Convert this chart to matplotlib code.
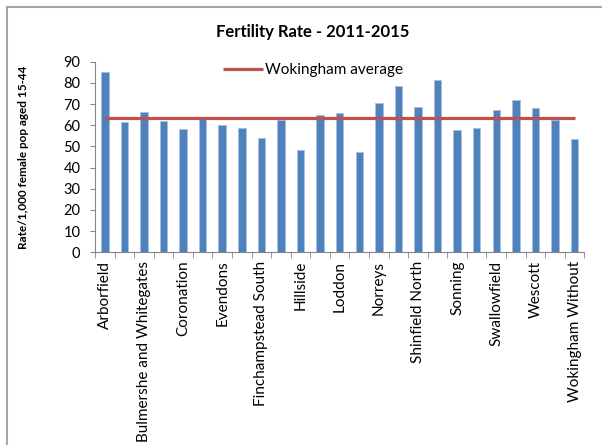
import matplotlib.pyplot as plt
from matplotlib.lines import Line2D

plt.rcParams['font.family'] = ['Lato', 'DejaVu Sans']

wards = ['Arborfield', 'Barkham', 'Bulmershe and Whitegates', 'Charvil',
         'Coronation', 'Emmbrook', 'Evendons', 'Finchampstead North',
         'Finchampstead South', 'Hawkedon', 'Hillside', 'Hurst', 'Loddon',
         'Maiden Erlegh', 'Norreys', 'Remenham, Wargrave and Ruscombe',
         'Shinfield North', 'Shinfield South', 'Sonning', 'South Lake',
         'Swallowfield', 'Twyford', 'Wescott', 'Winnersh', 'Wokingham Without']
rate = [85.0, 61.5, 66.4, 62.2, 58.1, 62.8, 60.1, 58.5, 53.8, 62.6,
        48.1, 64.8, 65.6, 47.4, 70.3, 78.5, 68.5, 81.5, 57.7, 58.8,
        67.0, 71.8, 68.0, 62.6, 53.5]
average = 63.2
yticks = [0, 10, 20, 30, 40, 50, 60, 70, 80, 90]

fig = plt.figure(figsize=(6.02, 4.45), dpi=100)
ax = fig.add_axes([95 / 602, 0.433, 489.3 / 602, 0.4283])

x = list(range(len(wards)))
ax.bar(x, rate, width=0.38, color='#4F81BD', edgecolor='#A7C0DE',
       linewidth=0.6, zorder=2)
ax.plot([x[0], x[-1]], [average, average], color='#C0504D', lw=2.3,
        zorder=3, label='Wokingham average', solid_capstyle='butt')

ax.set_xlim(-0.5, len(wards) - 0.5)
ax.set_ylim(0, 90)
ax.set_yticks(yticks)
ax.tick_params(axis='y', labelsize=10.5, length=3.5, color='#868686', pad=7)

# every other ward labelled, tick marks between categories
ax.set_xticks(x[::2])
ax.set_xticklabels(wards[::2], rotation=90, fontsize=11)
ax.tick_params(axis='x', which='major', length=0, pad=6)
ax.set_xticks([i - 0.5 for i in range(len(wards) + 1)], minor=True)
ax.tick_params(axis='x', which='minor', length=4, color='#868686')

for s in ['top', 'right']:
    ax.spines[s].set_visible(False)
for s in ['left', 'bottom']:
    ax.spines[s].set_color('#868686')

ax.set_ylabel('Rate/1,000 female pop aged 15-44', fontsize=8.5,
              fontweight='bold')
ax.yaxis.set_label_coords(-0.135, 0.5)

fig.text(0.52, 0.927, 'Fertility Rate - 2011-2015', ha='center',
         va='center', fontsize=12, fontweight='bold')

leg = ax.legend(loc='upper left', bbox_to_anchor=(0.25, 1.025), frameon=False,
                fontsize=11, handlelength=2.6, handletextpad=0.15,
                borderaxespad=0)

# chart area border (top and left visible)
fig.add_artist(Line2D([7 / 602, 1], [1 - 6.5 / 445, 1 - 6.5 / 445],
                      color='#A6A6A6', lw=1.5, transform=fig.transFigure))
fig.add_artist(Line2D([7 / 602, 7 / 602], [0, 1 - 6.5 / 445],
                      color='#A6A6A6', lw=1.5, transform=fig.transFigure))

fig.savefig('out.png', dpi=100)
